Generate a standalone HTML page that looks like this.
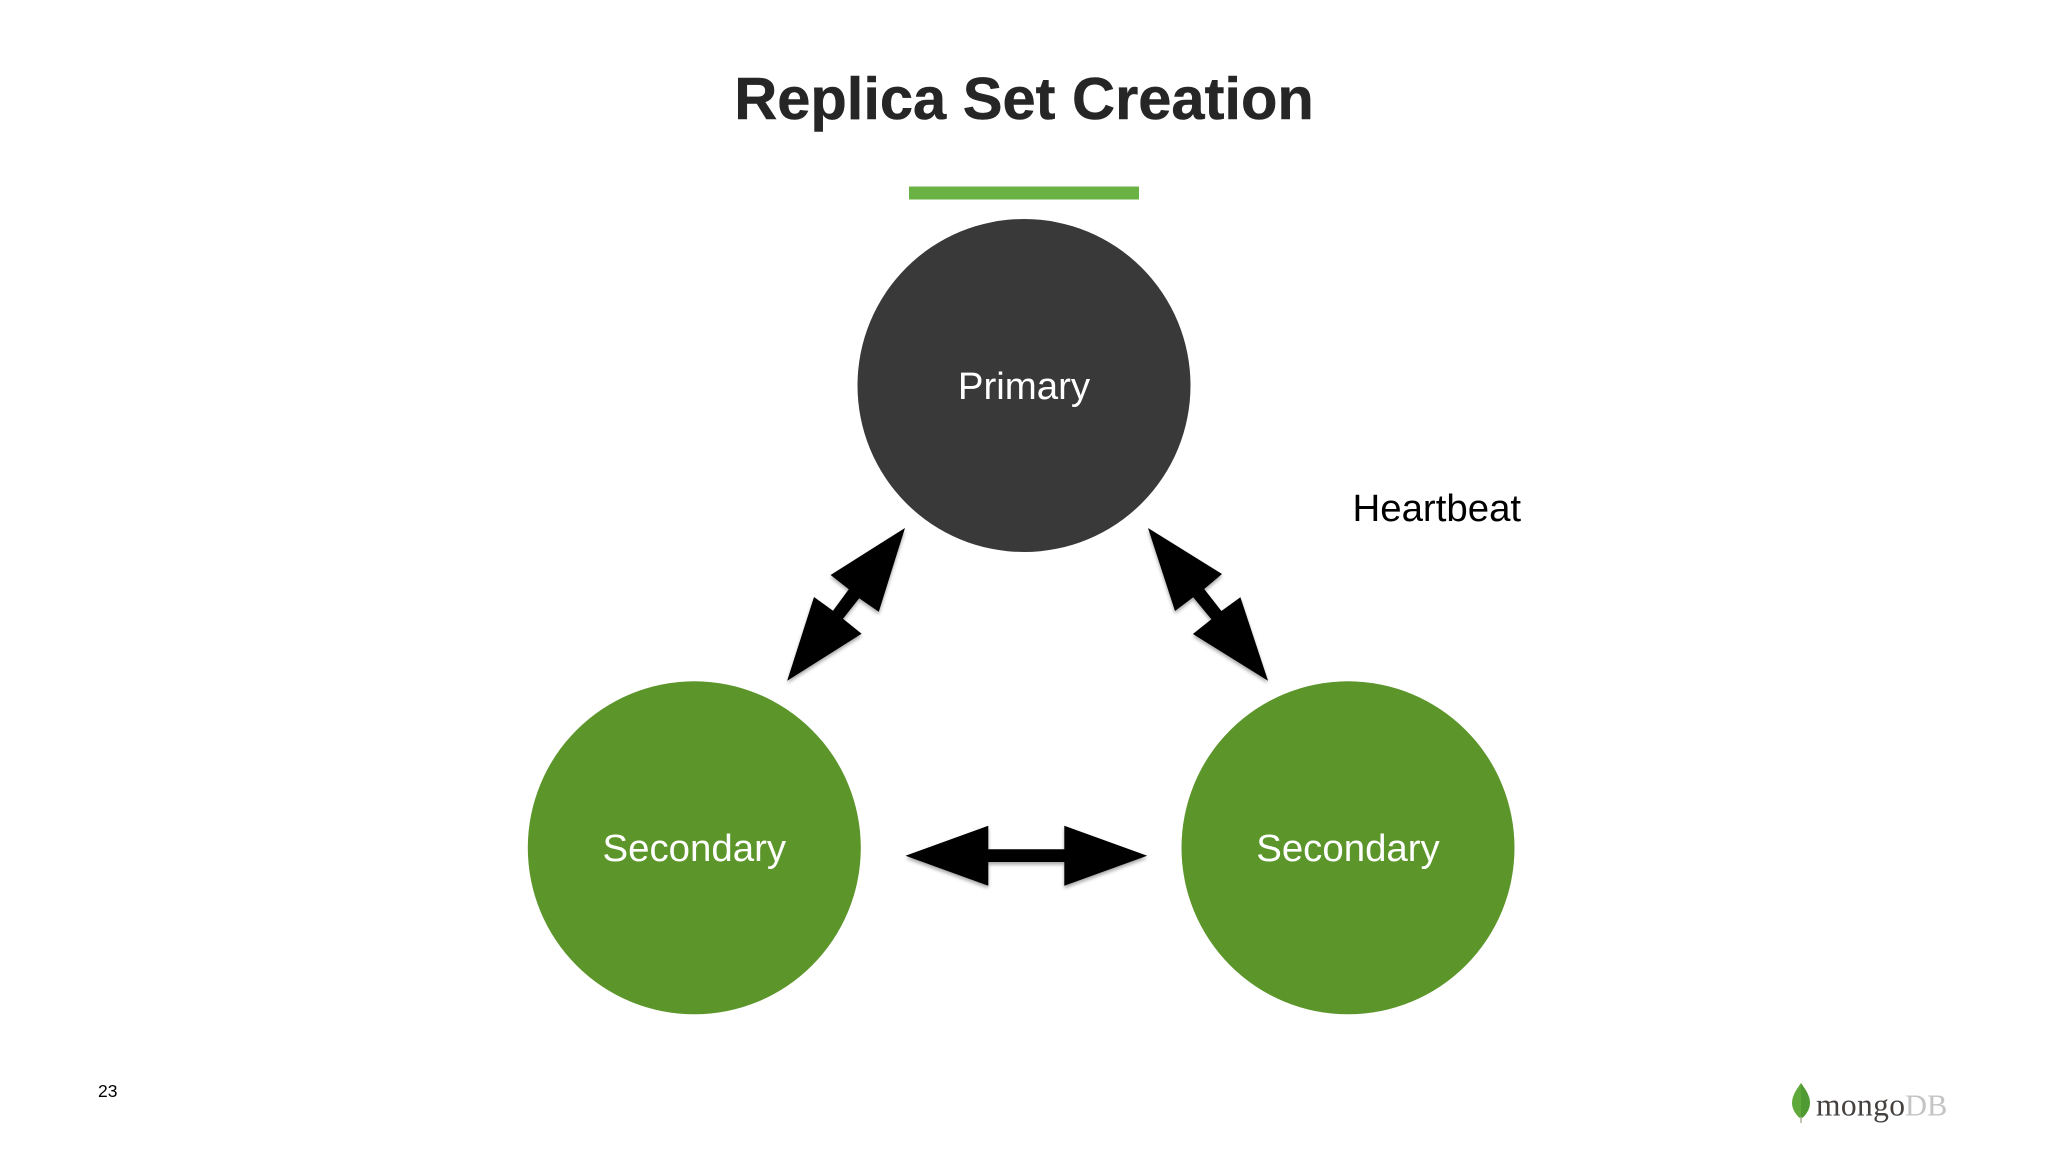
<!DOCTYPE html>
<html>
<head>
<meta charset="utf-8">
<title>Replica Set Creation</title>
<style>
html,body{margin:0;padding:0;background:#fff;width:2048px;height:1152px;overflow:hidden}
svg{display:block}
text{font-family:"Liberation Sans",sans-serif}
</style>
</head>
<body>
<svg width="2048" height="1152" viewBox="0 0 2048 1152" xmlns="http://www.w3.org/2000/svg">
<defs>
<filter id="sh" x="-15%" y="-15%" width="130%" height="130%">
<feDropShadow dx="0" dy="2.5" stdDeviation="1.8" flood-color="#000" flood-opacity="0.35"/>
</filter>
</defs>
<rect width="2048" height="1152" fill="#ffffff"/>
<text x="1024" y="119" text-anchor="middle" font-size="59.6" font-weight="700" fill="#262626" stroke="#262626" stroke-width="0.5">Replica Set Creation</text>
<rect x="909" y="186.5" width="230" height="13" fill="#6bb244"/>

<circle cx="1024" cy="385.5" r="166.5" fill="#393939"/>
<circle cx="694.3" cy="847.8" r="166.5" fill="#5c962b"/>
<circle cx="1348" cy="847.8" r="166.5" fill="#5c962b"/>

<text x="1024" y="399" text-anchor="middle" font-size="38.4" fill="#ffffff">Primary</text>
<text x="694.3" y="861" text-anchor="middle" font-size="38.4" fill="#ffffff">Secondary</text>
<text x="1348" y="861" text-anchor="middle" font-size="38.4" fill="#ffffff">Secondary</text>
<text x="1352.5" y="521" font-size="38.4" fill="#000000">Heartbeat</text>

<polygon filter="url(#sh)" fill="#000" points="905,528 878.8,611.7 859.2,598.3 843,618.7 861.6,633.7 787.2,680.7 814,597 833,610.7 848.8,589.3 830.6,575"/>
<polygon filter="url(#sh)" fill="#000" points="1148,528 1222,574 1204.2,589 1221.4,611 1240.4,597.3 1268,680.7 1192.9,634 1211.4,619.3 1193.2,597.3 1175,611"/>
<polygon filter="url(#sh)" fill="#000" points="905.5,855.7 988.3,825.7 988.3,849.3 1064.3,849.3 1064.3,825.7 1147.2,855.7 1064.3,885.7 1064.3,862 988.3,862 988.3,885.7"/>

<text x="98" y="1097" font-size="17.5" fill="#000000">23</text>

<path d="M1801,1083 C1796,1090 1792,1096 1792,1103 C1792,1110 1797,1116 1801,1119 Z" fill="#5fa83a"/>
<path d="M1801,1083 C1806,1090 1810,1096 1810,1103 C1810,1110 1805,1116 1801,1119 Z" fill="#4f9a33"/>
<rect x="1800.2" y="1117" width="1.6" height="6" fill="#b5b5a5"/>
<text x="1816" y="1115.7" font-size="31.5" textLength="89" lengthAdjust="spacing" style='font-family:"Liberation Serif",serif' fill="#45413f">mongo</text>
<text x="1905" y="1115.7" font-size="30.5" style='font-family:"Liberation Serif",serif' fill="#c4c4c4">DB</text>
</svg>
</body>
</html>
